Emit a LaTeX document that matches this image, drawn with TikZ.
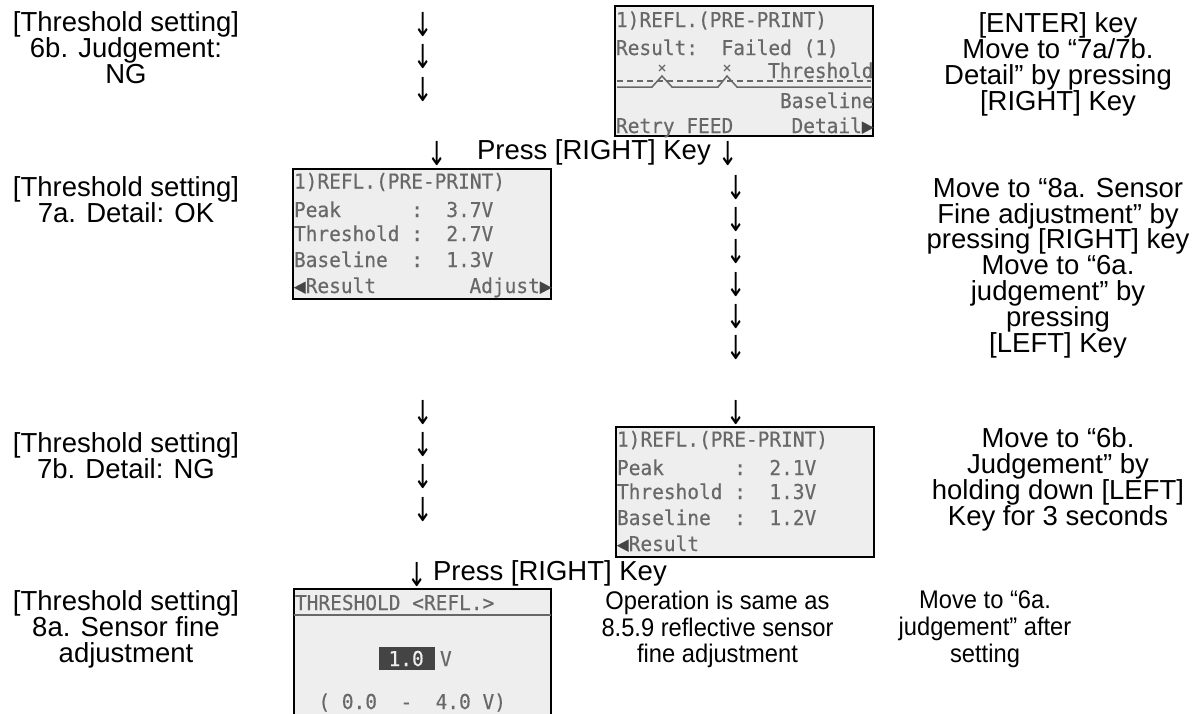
\documentclass[tikz,border=0pt]{standalone}
\usepackage{fontspec}
\setmainfont{Liberation Sans}
\newfontfamily\lcdfont[FakeStretch=0.95,FakeBold=0.4]{DejaVu Sans Mono}
\newfontfamily\condfont[FakeStretch=0.93]{Liberation Sans}
\newfontfamily\arrowfont[FakeStretch=0.7]{DejaVu Sans}
\usetikzlibrary{positioning}
\definecolor{lcdbg}{HTML}{EEEEEE}
\definecolor{lcdink}{HTML}{686868}
\definecolor{lcddark}{HTML}{444444}

\begin{document}
\begin{tikzpicture}[x=1pt,y=-1pt, every node/.style={inner sep=0pt,outer sep=0pt},
lbl/.style={anchor=north,align=center,font=\fontsize{27.5}{26}\selectfont},
note/.style={anchor=north,align=center,font=\fontsize{27.5}{25.8}\selectfont},
cnote/.style={anchor=north,align=center,font=\condfont\fontsize{25.5}{26.7}\selectfont},
dn/.style={font=\arrowfont\fontsize{33}{33}\selectfont},
keytxt/.style={anchor=west,font=\fontsize{27.5}{30}\selectfont},
screen/.style={draw=black,line width=2.5pt,fill=lcdbg,anchor=north west,
minimum width=258pt,minimum height=130pt},
row/.style={anchor=base west,text=lcdink,font=\lcdfont\fontsize{20.5}{21}\selectfont\frenchspacing}]
\path[use as bounding box,fill=white] (0,0) rectangle (1196,713);
\clip (0,0) rectangle (1196,713);

% left column
\node[lbl] (l1) at (126,12) {[Threshold setting]\\6b. Judgement:\\NG};
\node[lbl] (l2) at (126,177) {[Threshold setting]\\7a. Detail: OK};
\node[lbl] (l3) at (126,433) {[Threshold setting]\\7b. Detail: NG};
\node[lbl] (l4) at (126,591) {[Threshold setting]\\8a. Sensor fine\\adjustment};

% right column
\node[note] (r1) at (1058,13) {[ENTER] key\\Move to “7a/7b.\\Detail” by pressing\\{}[RIGHT] Key};
\node[note] (r2) at (1058,178) {Move to “8a. Sensor\\Fine adjustment” by\\pressing [RIGHT] key\\Move to “6a.\\judgement” by\\pressing\\{}[LEFT] Key};
\node[note] (r3) at (1058,428) {Move to “6b.\\Judgement” by\\holding down [LEFT]\\Key for 3 seconds};
\node[cnote] (r4) at (985,591) {Move to “6a.\\judgement” after\\setting};
\node[cnote] (op) at (717.5,591) {Operation is same as\\8.5.9 reflective sensor\\fine adjustment};

% arrows
\foreach \y [count=\i] in {25,57,90,413,445,477,510}
  \node[dn] (a\i) at (423,\y) {↓};
\foreach \y [count=\i] in {188,220,252,285,317,348,413}
  \node[dn] (b\i) at (736,\y) {↓};
\node[dn] (p1) at (437,154) {↓};
\node[keytxt] (k1) at (477,152) {Press [RIGHT] Key};
\node[dn] (p2) at (728,154) {↓};
\node[dn] (p3) at (417,575) {↓};
\node[keytxt] (k2) at (433,573) {Press [RIGHT] Key};

% screen 6b
\begin{scope}[shift={(615,6)}]
\node[screen] (s1) at (0,0) {};
\draw[lcdink,line width=1.5pt,dash pattern=on 6pt off 4pt] (2,75) -- (256,75);
\draw[lcdink,line width=1.5pt] (2,81) -- (37,81) -- (47,70) -- (57,81) -- (103,81)
  -- (112,70) -- (122,81) -- (256,81);
\draw[lcdink,line width=1.2pt] (44,59) -- (50,65) (44,65) -- (50,59)
  (109,59) -- (115,65) (109,65) -- (115,59);
\node[row] (s1a) at (1,21) {1)REFL.(PRE-PRINT)};
\node[row] (s1b) at (1,49) {Result:~~Failed~(1)};
\node[row] (s1c) at (153,72) {Threshold};
\node[row] (s1d) at (165,102) {Baseline};
\node[row] (s1e) at (1,127) {Retry~FEED};
\node[row] (s1f) at (176.5,127) {Detail{\color{lcddark}▶}};
\end{scope}

% screen 7a
\begin{scope}[shift={(293,169)}]
\node[screen] (s2) at (0,0) {};
\node[row] (s2a) at (1,19.5) {1)REFL.(PRE-PRINT)};
\node[row] (s2b) at (1,48) {Peak~~~~~~:~~3.7V};
\node[row] (s2c) at (1,72) {Threshold~:~~2.7V};
\node[row] (s2d) at (1,98) {Baseline~~:~~1.3V};
\node[row] (s2e) at (1,124) {{\color{lcddark}◀}Result};
\node[row] (s2f) at (176.5,124) {Adjust{\color{lcddark}▶}};
\end{scope}

% screen 7b
\begin{scope}[shift={(616,427)}]
\node[screen] (s3) at (0,0) {};
\node[row] (s3a) at (1,19.5) {1)REFL.(PRE-PRINT)};
\node[row] (s3b) at (1,48) {Peak~~~~~~:~~2.1V};
\node[row] (s3c) at (1,72) {Threshold~:~~1.3V};
\node[row] (s3d) at (1,98) {Baseline~~:~~1.2V};
\node[row] (s3e) at (1,124) {{\color{lcddark}◀}Result};
\end{scope}

% screen 8a
\begin{scope}[shift={(294,589)}]
\node[screen,minimum width=257pt,minimum height=200pt] (s4) at (0,0) {};
\draw[lcdink,line width=2pt] (0,26) -- (257,26);
\node[row] (s4a) at (1,21) {THRESHOLD~<REFL.>};
\node[fill=lcddark,minimum width=56pt,minimum height=23pt] (s4v) at (113,69.5) {};
\node[row,text=lcdbg] (s4b) at (94.6,77) {1.0};
\node[row] (s4c) at (146,77) {V};
\node[row] (s4d) at (24.4,120) {(~0.0~~-~~4.0~V)};
\end{scope}
\end{tikzpicture}
\end{document}
